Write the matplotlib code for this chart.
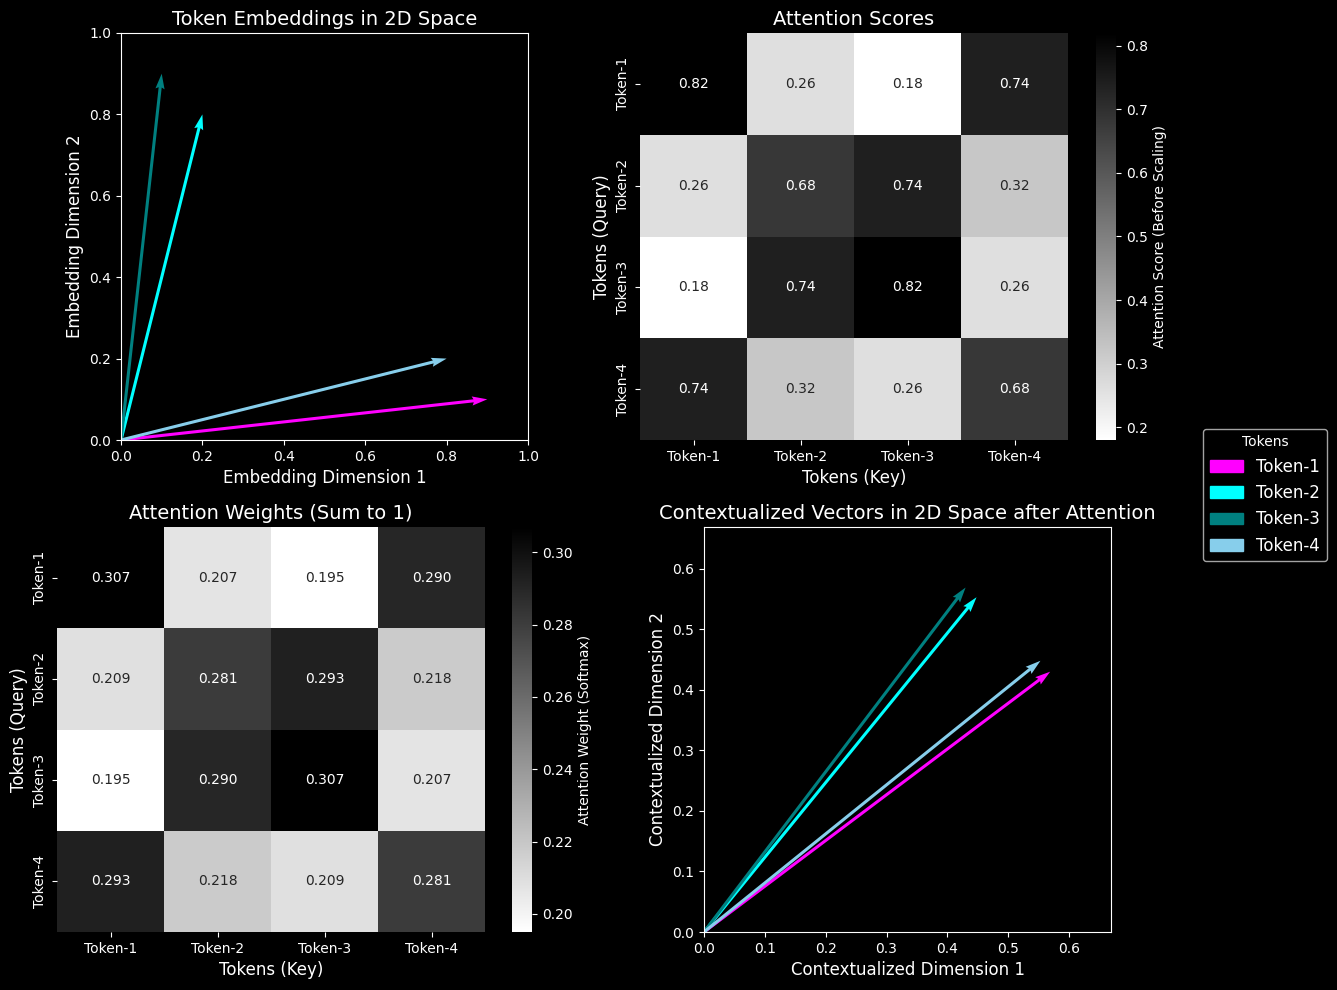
import matplotlib
matplotlib.use("Agg")
import matplotlib.pyplot as plt
import matplotlib.patches as mpatches
import numpy as np
import seaborn as sns

tokens = ["Token-1", "Token-2", "Token-3", "Token-4"]
colors = ["magenta", "cyan", "teal", "skyblue"]

# embeddings
emb_x = [0.9, 0.2, 0.1, 0.8]
emb_y = [0.1, 0.8, 0.9, 0.2]

scores = np.array([
    [0.82, 0.26, 0.18, 0.74],
    [0.26, 0.68, 0.74, 0.32],
    [0.18, 0.74, 0.82, 0.26],
    [0.74, 0.32, 0.26, 0.68],
])

weights = np.array([
    [0.307, 0.207, 0.195, 0.290],
    [0.209, 0.281, 0.293, 0.218],
    [0.195, 0.290, 0.307, 0.207],
    [0.293, 0.218, 0.209, 0.281],
])

# contextualized vectors
ctx_x = [0.569, 0.448, 0.430, 0.553]
ctx_y = [0.430, 0.553, 0.569, 0.448]

plt.style.use("dark_background")
W, H = 1337, 990
fig = plt.figure(figsize=(W / 100, H / 100), dpi=100)


def px_axes(x0, y0, x1, y1):
    return fig.add_axes([x0 / W, 1 - y1 / H, (x1 - x0) / W, (y1 - y0) / H])


# Token embeddings
ax1 = px_axes(121, 33, 528, 440)
zeros = np.zeros(len(tokens))
ax1.quiver(zeros, zeros, emb_x, emb_y, angles="xy", scale_units="xy", scale=1, color=colors)
ax1.set_xlim(0, 1)
ax1.set_ylim(0, 1)
ax1.set_title("Token Embeddings in 2D Space", fontsize=14)
ax1.set_xlabel("Embedding Dimension 1", fontsize=12)
ax1.set_ylabel("Embedding Dimension 2", fontsize=12)

# Attention scores heatmap
ax2 = px_axes(640, 33, 1068, 440)
cax2 = px_axes(1096, 33, 1116, 440)
sns.heatmap(scores, annot=True, fmt=".2f", cmap="gray_r", xticklabels=tokens, yticklabels=tokens,
            ax=ax2, cbar_ax=cax2, cbar_kws={"label": "Attention Score (Before Scaling)"})
ax2.set_title("Attention Scores", fontsize=14)
ax2.set_xlabel("Tokens (Key)", fontsize=12)
ax2.set_ylabel("Tokens (Query)", fontsize=12)
ax2.set_yticklabels(tokens, rotation=90, va="center")

# Attention weights heatmap
ax3 = px_axes(57, 527, 485, 932)
cax3 = px_axes(512, 527, 532, 932)
sns.heatmap(weights, annot=True, fmt=".3f", cmap="gray_r", xticklabels=tokens, yticklabels=tokens,
            ax=ax3, cbar_ax=cax3, cbar_kws={"label": "Attention Weight (Softmax)"})
ax3.set_title("Attention Weights (Sum to 1)", fontsize=14)
ax3.set_xlabel("Tokens (Key)", fontsize=12)
ax3.set_ylabel("Tokens (Query)", fontsize=12)
ax3.set_yticklabels(tokens, rotation=90, va="center")

# Contextualized vectors
ax4 = px_axes(704, 527, 1111, 932)
ax4.quiver(zeros, zeros, ctx_x, ctx_y, angles="xy", scale_units="xy", scale=1, color=colors)
lim = max(max(ctx_x), max(ctx_y)) + 0.1
ax4.set_xlim(0, lim)
ax4.set_ylim(0, lim)
ax4.set_title("Contextualized Vectors in 2D Space after Attention", fontsize=14)
ax4.set_xlabel("Contextualized Dimension 1", fontsize=12)
ax4.set_ylabel("Contextualized Dimension 2", fontsize=12)

handles = [mpatches.Patch(color=c, label=t) for c, t in zip(colors, tokens)]
fig.legend(handles=handles, title="Tokens", loc="center", bbox_to_anchor=(1265 / W, 1 - 495 / H),
           fontsize=12, title_fontsize=10)

fig.savefig("out.png", dpi=100)
